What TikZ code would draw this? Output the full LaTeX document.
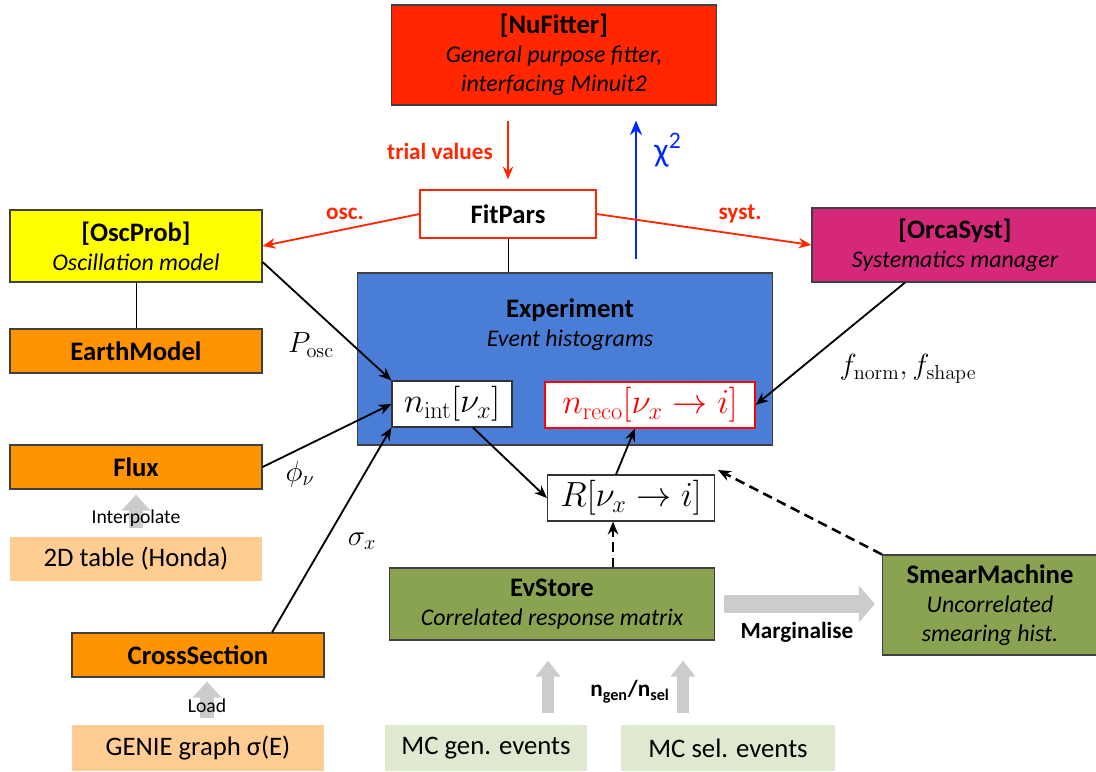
\documentclass[tikz,border=0pt]{standalone}
\usepackage[no-math]{fontspec}
\setmainfont{Carlito}
\usetikzlibrary{arrows.meta,positioning,calc}
\definecolor{fitred}{RGB}{255,38,0}
\definecolor{oscyellow}{RGB}{255,255,0}
\definecolor{modorange}{RGB}{255,147,0}
\definecolor{inputorange}{RGB}{255,204,145}
\definecolor{expblue}{RGB}{74,126,214}
\definecolor{systpink}{RGB}{214,40,122}
\definecolor{evgreen}{RGB}{138,163,80}
\definecolor{mcgreen}{RGB}{223,233,207}
\definecolor{arrowgray}{RGB}{204,204,204}
\definecolor{chiblue}{RGB}{0,40,255}
\newcommand{\boxdesc}[1]{{\fontsize{17}{20.5}\selectfont\itshape #1}}
\tikzset{
  box/.style={draw=black!75, line width=0.8pt, fill=#1, align=center, inner sep=0pt,
              font=\fontsize{19}{20.5}\selectfont},
  inbox/.style={fill=#1, align=center, inner sep=0pt, font=\fontsize{19}{21}\selectfont},
  histbox/.style={draw=black!80, line width=0.8pt, fill=white, inner sep=0pt,
                  font=\fontsize{24}{28}\selectfont},
  mlabel/.style={font=\fontsize{20}{24}\selectfont},
  redlabel/.style={text=fitred, font=\fontsize{16.5}{19}\selectfont\bfseries},
  link/.style={-{Stealth[length=3.2mm,width=2.6mm]}, line width=1.3pt},
  fitlink/.style={link, draw=fitred},
  dashlink/.style={link, line width=1.8pt, dash pattern=on 7pt off 4pt},
  grayarrow/.style={draw=arrowgray, line width=#1, -{Triangle[length=0.4cm,width=2*#1]}},
}
\begin{document}
\begin{tikzpicture}[x=0.025cm, y=-0.025cm]
\useasboundingbox (0,0) rectangle (1096,771);
% Fitter and parameters
\node[box=fitred, minimum width=8.125cm, minimum height=2.5cm] (nufitter) at (554,55)
  {\textbf{[NuFitter]}\\\boxdesc{General purpose fitter,}\\\boxdesc{interfacing Minuit2}};
\node[box=white, draw=fitred, minimum width=4.4cm, minimum height=1.2cm] (fitpars) at (508,214)
  {\textbf{FitPars}};
% Left column: models
\node[box=oscyellow, minimum width=6.3cm, minimum height=1.8cm] (oscprob) at (136,246)
  {\textbf{[OscProb]}\\\boxdesc{Oscillation model}};
\node[box=modorange, minimum width=6.3cm, minimum height=1.1cm] (earth) at (136,351)
  {\textbf{EarthModel}};
\node[box=modorange, minimum width=6.3cm, minimum height=1.1cm] (flux) at (136,467)
  {\textbf{Flux}};
\node[inbox=inputorange, minimum width=6.3cm, minimum height=1.1cm] (honda) at (136,559)
  {2D table (Honda)};
\node[box=modorange, minimum width=6.3cm, minimum height=1.1cm] (xsec) at (198,655)
  {\textbf{CrossSection}};
\node[inbox=inputorange, minimum width=6.3cm, minimum height=1.15cm] (genie) at (198,748)
  {GENIE graph σ(E)};
% Systematics
\node[box=systpink, minimum width=7.15cm, minimum height=1.85cm] (orcasyst) at (955,245)
  {\textbf{[OrcaSyst]}\\\boxdesc{Systematics manager}};
% Experiment and histograms
\node[box=expblue, minimum width=10.375cm, minimum height=4.3cm] (experiment) at (565,359) {};
\node[align=center, font=\fontsize{19}{20.5}\selectfont] (exptext) at (570,325)
  {\textbf{Experiment}\\\boxdesc{Event histograms}};
\node[histbox, minimum width=3cm, minimum height=1.15cm] (nint) at (452,404)
  {$n_{\mathrm{int}}[\nu_x]$};
\node[histbox, draw=red, text=red, minimum width=5.25cm, minimum height=1.15cm] (nreco) at (650,405)
  {$n_{\mathrm{reco}}[\nu_x\rightarrow i]$};
\node[histbox, minimum width=4.175cm, minimum height=1.15cm] (rbox) at (631,498)
  {$R[\nu_x\rightarrow i]$};
% Detector response
\node[box=evgreen, minimum width=8.125cm, minimum height=1.8cm] (evstore) at (552,604)
  {\textbf{EvStore}\\\boxdesc{Correlated response matrix}};
\node[box=evgreen, minimum width=5.375cm, minimum height=2.5cm] (smear) at (990,605)
  {\textbf{SmearMachine}\\\boxdesc{Uncorrelated}\\\boxdesc{smearing hist.}};
\node[inbox=mcgreen, minimum width=5.05cm, minimum height=1.15cm] (mcgen) at (486,748)
  {MC gen. events};
\node[inbox=mcgreen, minimum width=5.325cm, minimum height=1.15cm] (mcsel) at (728,748)
  {MC sel. events};
% Gray input arrows
\draw[grayarrow=0.35cm, shorten <=0.225cm, shorten >=0.125cm] (honda.north) -- (flux.south);
\node[font=\fontsize{14}{16}\selectfont] (interp) at (136,518) {Interpolate};
\draw[grayarrow=0.35cm, shorten <=0.175cm, shorten >=0.1cm] ([xshift=0.225cm]genie.north) -- ([xshift=0.225cm]xsec.south);
\node[font=\fontsize{14}{16}\selectfont] (load) at (207,706) {Load};
\draw[grayarrow=0.3cm, shorten <=0.3cm, shorten >=0.5cm] ([xshift=1.55cm]mcgen.north) -- ([xshift=1.55cm]mcgen.north |- evstore.south);
\draw[grayarrow=0.3cm, shorten <=0.3cm, shorten >=0.5cm] ([xshift=-1.125cm]mcsel.north) -- ([xshift=-1.125cm]mcsel.north |- evstore.south);
\node[font=\fontsize{16.5}{19}\selectfont\bfseries] (nsel) at (630,692) {n\textsubscript{gen}/n\textsubscript{sel}};
\draw[grayarrow=0.45cm, shorten <=0.225cm, shorten >=0.175cm] (evstore.east) -- (evstore.east -| smear.west);
\node[font=\fontsize{16.5}{19}\selectfont\bfseries] (marg) at (797,632) {Marginalise};
% Fit loop
\draw[fitlink, shorten <=0.375cm, shorten >=0.25cm] (fitpars.north |- nufitter.south) -- (fitpars.north);
\node[redlabel] (trial) at (440,151) {trial values};
\coordinate (chifoot) at ([xshift=1.775cm]experiment.north);
\draw[-{Stealth[length=3.6mm,width=3mm]}, line width=2pt, draw=chiblue, shorten <=0.325cm, shorten >=0.375cm]
  (chifoot) -- (chifoot |- nufitter.south);
\node[text=chiblue, font=\fontsize{24}{28}\selectfont] (chi) at (668,150) {χ\textsuperscript{2}};
\draw[fitlink] (fitpars.west) -- (oscprob.east);
\node[redlabel] (osc) at (345,214) {osc.};
\draw[fitlink] (fitpars.east) -- (orcasyst.west);
\node[redlabel] (syst) at (740,214) {syst.};
\draw[line width=0.6pt] (fitpars.south) -- (fitpars.south |- experiment.north);
\draw[line width=0.6pt] (oscprob.south) -- (earth.north);
% Inputs to histograms
\draw[link] ([yshift=-0.4cm]oscprob.east) -- (nint.north west);
\node[mlabel] (posc) at (311,345) {$P_{\mathrm{osc}}$};
\draw[link] (flux.east) -- (nint.west);
\node[mlabel] (phi) at (300,474) {$\phi_\nu$};
\draw[link] ([xshift=1.85cm]xsec.north) -- (nint.south west);
\node[mlabel] (sigma) at (362,541) {$\sigma_x$};
\draw[link] ([xshift=-1.25cm]orcasyst.south) -- (nreco.east);
\node[mlabel] (fnorm) at (908,369) {$f_{\mathrm{norm}}, f_{\mathrm{shape}}$};
\draw[link] ([xshift=0.525cm]nint.south) -- (rbox.west);
\draw[link] ([xshift=-0.375cm]rbox.north) -- ([xshift=-0.375cm]nreco.south);
\draw[dashlink] ([xshift=-0.45cm]rbox.south |- evstore.north) -- ([xshift=-0.45cm]rbox.south);
\coordinate (smearend) at (718,470);
\draw[dashlink] (smear.north west) -- (smearend);
\end{tikzpicture}
\end{document}
